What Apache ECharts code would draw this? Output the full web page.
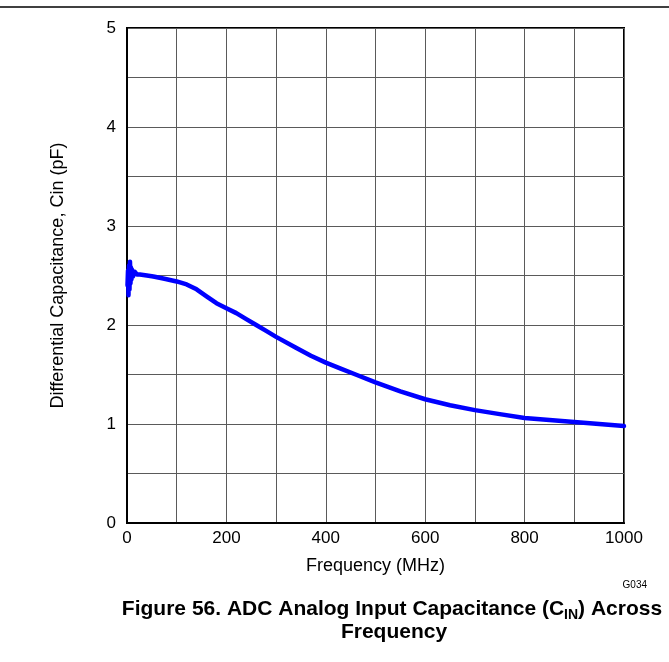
<!DOCTYPE html>
<html>
<head>
<meta charset="utf-8">
<script src="https://cdn.jsdelivr.net/npm/echarts@6/dist/echarts.min.js"></script>
<style>
  html, body { margin: 0; padding: 0; background: #fff; }
  #chart { width: 669px; height: 662px; }
</style>
</head>
<body>
<div id="chart"></div>
<script>
// frequency (MHz) and differential capacitance (pF)
var freq = [1, 2, 3, 4, 5, 6, 7, 8, 9, 10, 12, 15, 20, 26, 40, 53, 73, 100, 120, 140, 160, 180, 200, 220, 240, 260, 280, 300, 340, 370, 400, 430, 460, 500, 550, 600, 650, 700, 750, 800, 850, 900, 950, 1000];
var cin  = [2.40, 2.55, 2.30, 2.60, 2.36, 2.64, 2.42, 2.58, 2.46, 2.56, 2.49, 2.54, 2.51, 2.51, 2.50, 2.49, 2.47, 2.44, 2.41, 2.36, 2.29, 2.22, 2.17, 2.12, 2.06, 2.00, 1.94, 1.88, 1.77, 1.69, 1.62, 1.56, 1.50, 1.42, 1.33, 1.25, 1.19, 1.14, 1.10, 1.06, 1.04, 1.02, 1.00, 0.98];

var xTicks = [0, 200, 400, 600, 800, 1000];
var yTicks = [0, 1, 2, 3, 4, 5];

var font = "Liberation Sans, Arial, sans-serif";
var points = freq.map(function (f, i) { return [f, cin[i]]; });

var chart = echarts.init(document.getElementById("chart"));
chart.setOption({
  backgroundColor: "#fff",
  animation: false,
  grid: {
    left: 127,
    right: 45,
    top: 28,
    bottom: 139,
    show: true,
    borderColor: "#000",
    borderWidth: 2
  },
  xAxis: {
    type: "value",
    min: xTicks[0],
    max: xTicks[xTicks.length - 1],
    interval: 200,
    name: "Frequency (MHz)",
    nameLocation: "middle",
    nameGap: 34,
    nameTextStyle: { fontFamily: font, fontSize: 18, color: "#000" },
    axisLine: { show: true, lineStyle: { color: "#000", width: 2 } },
    axisTick: { show: false },
    axisLabel: {
      fontFamily: font, fontSize: 17, color: "#000", margin: 7,
      formatter: function (v) { return String(v); }
    },
    splitLine: { show: true, lineStyle: { color: "#5a5a5a", width: 1 } },
    minorTick: { show: false, splitNumber: 2 },
    minorSplitLine: { show: true, lineStyle: { color: "#5a5a5a", width: 1 } }
  },
  yAxis: {
    type: "value",
    min: yTicks[0],
    max: yTicks[yTicks.length - 1],
    interval: 1,
    name: "Differential Capacitance, Cin (pF)",
    nameLocation: "middle",
    nameGap: 60,
    nameTextStyle: { fontFamily: font, fontSize: 18, color: "#000" },
    axisLine: { show: true, lineStyle: { color: "#000", width: 2 } },
    axisTick: { show: false },
    axisLabel: { fontFamily: font, fontSize: 17, color: "#000", margin: 11 },
    splitLine: { show: true, lineStyle: { color: "#5a5a5a", width: 1 } },
    minorTick: { show: false, splitNumber: 2 },
    minorSplitLine: { show: true, lineStyle: { color: "#5a5a5a", width: 1 } }
  },
  series: [
    {
      name: "Cin",
      type: "line",
      data: points,
      showSymbol: false,
      lineStyle: { color: "#0000ff", width: 4.5, join: "round", cap: "round" },
      z: 5
    }
  ],
  graphic: [
    {
      type: "line",
      shape: { x1: 0, y1: 7, x2: 669, y2: 7 },
      style: { stroke: "#000", lineWidth: 1.5 }
    },
    {
      type: "text",
      x: 647,
      y: 585,
      style: { text: "G034", font: "10px " + font, fill: "#000", textAlign: "right", textVerticalAlign: "middle" }
    },
    {
      type: "text",
      x: 392,
      y: 609,
      style: {
        text: "{a|Figure 56. ADC Analog Input Capacitance (C}{s|IN}{a|) Across}",
        textAlign: "center",
        textVerticalAlign: "middle",
        rich: {
          a: { fontFamily: font, fontSize: 21, fontWeight: "bold", fill: "#000", lineHeight: 26, verticalAlign: "middle" },
          s: { fontFamily: font, fontSize: 14, fontWeight: "bold", fill: "#000", lineHeight: 16, verticalAlign: "bottom" }
        }
      }
    },
    {
      type: "text",
      x: 394,
      y: 632,
      style: { text: "Frequency", font: "bold 21px " + font, fill: "#000", textAlign: "center", textVerticalAlign: "middle" }
    }
  ]
});
</script>
</body>
</html>
